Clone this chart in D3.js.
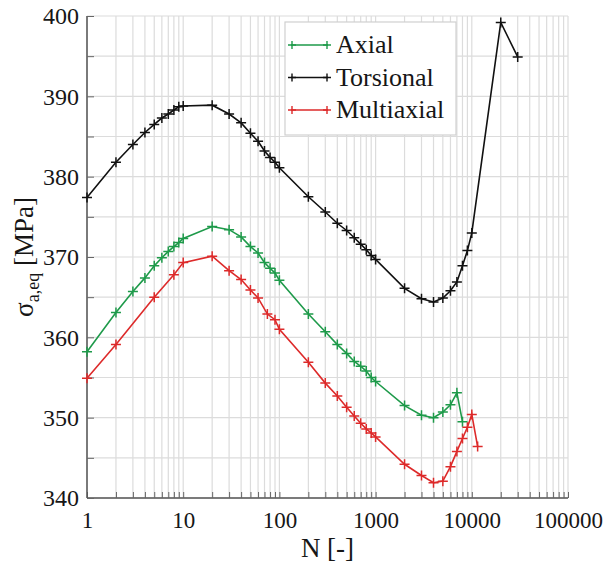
<!DOCTYPE html>
<meta charset="utf-8">
<script src="https://d3js.org/d3.v7.min.js"></script>
<style>
  body { margin: 0; background: #fff; }
  svg text { font-family: 'Liberation Serif', 'Times New Roman', serif !important; fill: #161616; }
</style>
<body>
<div id="canvas"></div>
<script>
// ---- data ----
var seriesNames = ["Axial", "Torsional", "Multiaxial"];
var seriesColors = ["#1e9a4a", "#111111", "#dd2a2a"];

var axialN = [1, 2, 3, 4, 5, 6, 7, 8, 9, 10, 20, 30, 40, 50, 60, 70, 80, 90, 100,
  200, 300, 400, 500, 600, 700, 800, 900, 1000, 2000, 3000, 4000, 5000, 6000, 7000, 8000];
var axialS = [358.2, 363.1, 365.7, 367.4, 368.9, 369.9, 370.7, 371.3, 371.8, 372.3, 373.8, 373.4, 372.5, 371.3, 370.5, 369.3, 368.6, 368.0, 367.1,
  362.9, 360.7, 359.1, 358.0, 357.0, 356.4, 355.8, 355.0, 354.5, 351.5, 350.3, 350.0, 350.7, 351.6, 353.1, 349.5];

var torsN = [1, 2, 3, 4, 5, 6, 7, 8, 9, 10, 20, 30, 40, 50, 60, 70, 80, 90, 100,
  200, 300, 400, 500, 600, 700, 800, 900, 1000, 2000, 3000, 4000, 5000, 6000, 7000, 8000, 9000, 10000, 20000, 30000];
var torsS = [377.4, 381.8, 384.0, 385.5, 386.5, 387.3, 387.8, 388.3, 388.7, 388.8, 388.9, 387.8, 386.7, 385.4, 384.4, 383.2, 382.4, 381.8, 381.1,
  377.5, 375.6, 374.2, 373.3, 372.4, 371.6, 370.9, 370.2, 369.7, 366.1, 364.8, 364.4, 364.9, 365.8, 366.9, 368.9, 370.8, 373.0, 399.2, 394.9];

var multiN = [1, 2, 5, 8, 10, 20, 30, 40, 50, 60, 75, 90, 100,
  200, 300, 400, 500, 600, 700, 800, 900, 1000, 2000, 3000, 4000, 5000, 6000, 7000, 8000, 9000, 10000, 11500];
var multiS = [354.9, 359.1, 365.0, 367.8, 369.3, 370.1, 368.3, 367.2, 365.9, 364.9, 362.9, 362.2, 361.0,
  356.9, 354.3, 352.7, 351.3, 350.2, 349.3, 348.6, 348.1, 347.6, 344.2, 342.8, 341.9, 342.1, 343.9, 345.8, 347.4, 348.8, 350.4, 346.4];

var xTicks = [1, 10, 100, 1000, 10000, 100000];
var yTicks = [340, 350, 360, 370, 380, 390, 400];

var data = [
  { name: seriesNames[0], color: seriesColors[0], values: axialN.map(function(n, i) { return { n: n, s: axialS[i] }; }) },
  { name: seriesNames[1], color: seriesColors[1], values: torsN.map(function(n, i) { return { n: n, s: torsS[i] }; }) },
  { name: seriesNames[2], color: seriesColors[2], values: multiN.map(function(n, i) { return { n: n, s: multiS[i] }; }) }
];

var width = 604, height = 567;
var margin = { top: 16, right: 36, bottom: 69, left: 87 };
var w = width - margin.left - margin.right;
var h = height - margin.top - margin.bottom;

var svg = d3.select("#canvas").append("svg")
  .attr("width", width)
  .attr("height", height);

var g = svg.append("g")
  .attr("transform", "translate(" + margin.left + "," + margin.top + ")");

var x = d3.scaleLog().domain([1, 100000]).range([0, w]);
var y = d3.scaleLinear().domain([340, 400]).range([h, 0]);

// grid: every minor decade step and every 5 MPa
var xGrid = [];
for (var d = 1; d < 100000; d *= 10) {
  for (var k = 1; k < 10; k++) xGrid.push(d * k);
}
xGrid.push(100000);
var yGrid = d3.range(340, 401, 5);

g.append("g").selectAll("line")
  .data(xGrid).enter().append("line")
  .attr("x1", function(v) { return x(v); })
  .attr("x2", function(v) { return x(v); })
  .attr("y1", 0).attr("y2", h)
  .attr("stroke", "#dcdcdc").attr("stroke-width", 1.2);

g.append("g").selectAll("line")
  .data(yGrid).enter().append("line")
  .attr("y1", function(v) { return y(v); })
  .attr("y2", function(v) { return y(v); })
  .attr("x1", 0).attr("x2", w)
  .attr("stroke", "#dcdcdc").attr("stroke-width", 1.2);

// axes (ticks inside)
var xAxis = d3.axisBottom(x).tickValues(xGrid).tickSize(-6)
  .tickFormat(function(v) { return xTicks.indexOf(v) >= 0 ? d3.format("d")(v) : ""; });
var gx = g.append("g")
  .attr("transform", "translate(0," + h + ")")
  .call(xAxis);
gx.selectAll("text").style("font-size", "23px").attr("dy", "0.95em").attr("y", 8);

var yAxis = d3.axisLeft(y).tickValues(yGrid).tickSize(-7)
  .tickFormat(function(v) { return yTicks.indexOf(v) >= 0 ? v : ""; });
var gy = g.append("g").call(yAxis);
gy.selectAll("text").style("font-size", "24px").attr("x", -8);

[gx, gy].forEach(function(a) {
  a.attr("font-family", null);
  a.select(".domain").attr("stroke", "#555").attr("stroke-width", 1.5);
  a.selectAll(".tick line").attr("stroke", "#666").attr("stroke-width", 1);
});
gy.select(".domain").attr("d", "M0," + h + "V0");
gx.select(".domain").attr("d", "M0,0H" + w);

// lines and + markers
var line = d3.line()
  .x(function(d) { return x(d.n); })
  .y(function(d) { return y(d.s); });

var cross = "M-5,0H5M0,-5V5";

data.forEach(function(serie) {
  g.append("path")
    .attr("d", line(serie.values))
    .attr("fill", "none")
    .attr("stroke", serie.color)
    .attr("stroke-width", 1.6);

  g.append("g").selectAll("path")
    .data(serie.values).enter().append("path")
    .attr("d", cross)
    .attr("transform", function(d) { return "translate(" + x(d.n) + "," + y(d.s) + ")"; })
    .attr("stroke", serie.color)
    .attr("stroke-width", 1.5);
});

// legend
var legend = g.append("g").attr("transform", "translate(198,6)");
legend.append("rect")
  .attr("width", 171).attr("height", 113)
  .attr("fill", "#fff").attr("stroke", "#d0d0d0").attr("stroke-width", 1.2);

data.forEach(function(serie, i) {
  var ly = 23 + i * 32.5;
  legend.append("line")
    .attr("x1", 6).attr("x2", 43).attr("y1", ly).attr("y2", ly)
    .attr("stroke", serie.color).attr("stroke-width", 1.6);
  [7, 42].forEach(function(px) {
    legend.append("path")
      .attr("d", "M-4,0H4M0,-4V4")
      .attr("transform", "translate(" + px + "," + ly + ")")
      .attr("stroke", serie.color).attr("stroke-width", 1.4);
  });
  legend.append("text")
    .attr("x", 51).attr("y", ly + 8)
    .style("font-size", "26px")
    .text(serie.name);
});

// axis titles
svg.append("text")
  .attr("x", margin.left + w / 2)
  .attr("y", 557)
  .attr("text-anchor", "middle")
  .style("font-size", "27px")
  .text("N [-]");

var yt = svg.append("text")
  .attr("transform", "translate(33," + (margin.top + h / 2) + ") rotate(-90)")
  .attr("text-anchor", "middle")
  .style("font-size", "27px");
yt.append("tspan").text("σ");
yt.append("tspan").attr("dy", 6).style("font-size", "18px").text("a,eq");
yt.append("tspan").attr("dy", -6).text(" [MPa]");
</script>
</body>
